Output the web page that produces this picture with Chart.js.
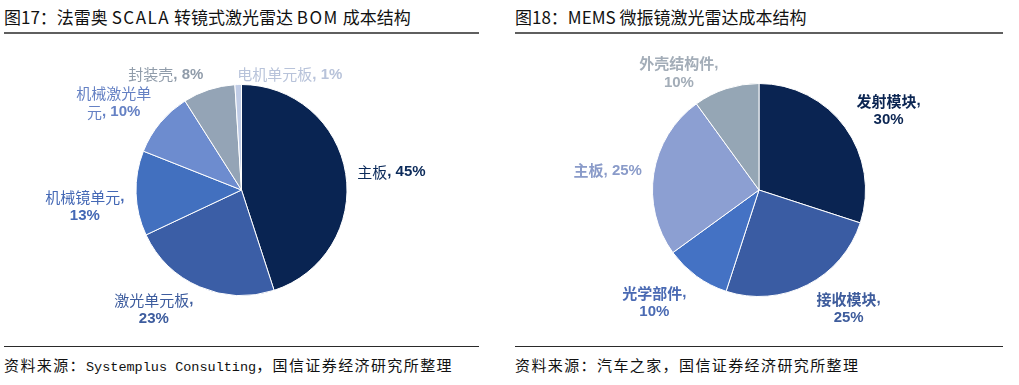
<!DOCTYPE html>
<html>
<head>
<meta charset="utf-8">
<script src="https://cdn.jsdelivr.net/npm/chart.js@4.4.1/dist/chart.umd.min.js"></script>
<style>
    body { margin: 0; width: 1019px; height: 385px; background: #fff; position: relative; overflow: hidden; font-family: "Noto Sans CJK SC", sans-serif; }
    .title { position: absolute; top: 6px; font-size: 17px; line-height: 22px; color: #111; white-space: nowrap; }
    .title .lat { letter-spacing: 1.5px; }
    .topline { position: absolute; top: 32px; height: 2px; background: #5f5f5f; }
    .botline { position: absolute; top: 346px; height: 1px; background: #2a2a2a; }
    .source { position: absolute; top: 355px; font-size: 15px; line-height: 20px; letter-spacing: 1.4px; color: #111; white-space: nowrap; }
    .source .mono { font-family: "Liberation Mono", monospace; font-size: 13.5px; letter-spacing: 0; }
    canvas { position: absolute; top: 36px; }
</style>
</head>
<body>
<div class="title" style="left:4px">图17：法雷奥 <span class="lat">SCALA</span> 转镜式激光雷达 <span class="lat">BOM</span> 成本结构</div>
<div class="topline" style="left:4px;width:475px"></div>
<canvas id="scala" width="475" height="308" style="left:4px"></canvas>
<div class="botline" style="left:4px;width:475px"></div>
<div class="source" style="left:4px">资料来源：<span class="mono">Systemplus Consulting</span>，国信证券经济研究所整理</div>

<div class="title" style="left:515px">图18：MEMS 微振镜激光雷达成本结构</div>
<div class="topline" style="left:515px;width:488px"></div>
<canvas id="mems" width="488" height="308" style="left:515px"></canvas>
<div class="botline" style="left:515px;width:488px"></div>
<div class="source" style="left:515px">资料来源：汽车之家，国信证券经济研究所整理</div>

<script>
// 图17 data
var scalaLabels = ['主板', '激光单元板', '机械镜单元', '机械激光单元', '封装壳', '电机单元板'];
var scalaValues = [45, 23, 13, 10, 8, 1];
var scalaColors = ['#092452', '#3b5ea6', '#4270bf', '#6d8ccf', '#94a4b6', '#c0cce6'];
var scalaTextColors = ['#0b2a5a', '#3d5c9e', '#4468b5', '#6581c4', '#909caa', '#b8c3da'];
// how each label wraps
var scalaWrap = ['one', 'two', 'two', 'split5', 'one', 'one'];
var scalaNudge = [[4, 5], [-29, -16], [-9, 12], [-14, 7], [-30, 25], [53, 32]];

// 图18 data
var memsLabels = ['发射模块', '接收模块', '光学部件', '主板', '外壳结构件'];
var memsValues = [30, 25, 10, 25, 10];
var memsColors = ['#0a2452', '#3a5ca3', '#4472c4', '#8c9fd2', '#95a6b5'];
var memsTextColors = ['#0b2552', '#3e5c9c', '#4a6ab3', '#8a9bc9', '#a3adb8'];
var memsWrap = ['two', 'two', 'two', 'one', 'two'];
var memsNudge = [[9, 8], [22, -14], [-17, -8], [-4, 4], [-34, 25]];

function labelLines(name, value, wrap) {
    var tail = value + '%';
    if (wrap == 'one') return [name + ', ' + tail];
    if (wrap == 'two') return [name + ',', tail];
    // split after n characters
    var n = parseInt(wrap.replace('split', ''));
    return [name.slice(0, n), name.slice(n) + ', ' + tail];
}

function drawRuns(ctx, text, cx, cy, color, cjkWeight) {
    var runs = text.match(/[\u4e00-\u9fff]+|[^\u4e00-\u9fff]+/g);
    var fonts = runs.map(function (r) {
        return /[\u4e00-\u9fff]/.test(r) ? cjkWeight + ' 15px "Noto Sans CJK SC"' : 'bold 15px "Liberation Sans"';
    });
    var total = 0;
    var widths = runs.map(function (r, i) {
        ctx.font = fonts[i];
        var w = ctx.measureText(r).width;
        total += w;
        return w;
    });
    var x = cx - total / 2;
    ctx.fillStyle = color;
    ctx.textAlign = 'left';
    ctx.textBaseline = 'middle';
    runs.forEach(function (r, i) {
        ctx.font = fonts[i];
        ctx.fillText(r, x, cy);
        x += widths[i];
    });
}

var pieLabels = {
    id: 'pieLabels',
    afterDatasetsDraw: function (chart, args, opts) {
        var ctx = chart.ctx;
        var ds = chart.data.datasets[0];
        ctx.save();
        chart.getDatasetMeta(0).data.forEach(function (arc, i) {
            var mid = (arc.startAngle + arc.endAngle) / 2;
            var d = arc.outerRadius * 1.4;
            var x = arc.x + Math.cos(mid) * d + opts.nudge[i][0];
            var y = arc.y + Math.sin(mid) * d + opts.nudge[i][1];
            var lines = labelLines(chart.data.labels[i], ds.data[i], opts.wrap[i]);
            var lh = 19;
            var top = y - (lines.length - 1) * lh / 2;
            lines.forEach(function (ln, k) {
                drawRuns(ctx, ln, x, top + k * lh, opts.colors[i], opts.cjkWeight);
            });
        });
        ctx.restore();
    }
};

function makePie(id, labels, values, colors, textColors, wrap, nudge, pad, cjkWeight) {
    var ctx = document.getElementById(id).getContext('2d');
    return new Chart(ctx, {
        type: 'pie',
        data: {
            labels: labels,
            datasets: [{
                data: values,
                backgroundColor: colors,
                borderColor: '#ffffff',
                borderWidth: 1
            }]
        },
        options: {
            responsive: false,
            animation: false,
            layout: { padding: { top: pad, bottom: pad } },
            plugins: {
                legend: { display: false },
                tooltip: { enabled: false },
                pieLabels: { colors: textColors, wrap: wrap, nudge: nudge, cjkWeight: cjkWeight }
            }
        },
        plugins: [pieLabels]
    });
}

makePie('scala', scalaLabels, scalaValues, scalaColors, scalaTextColors, scalaWrap, scalaNudge, 48, 'normal');
makePie('mems', memsLabels, memsValues, memsColors, memsTextColors, memsWrap, memsNudge, 47, 'bold');
</script>
</body>
</html>
